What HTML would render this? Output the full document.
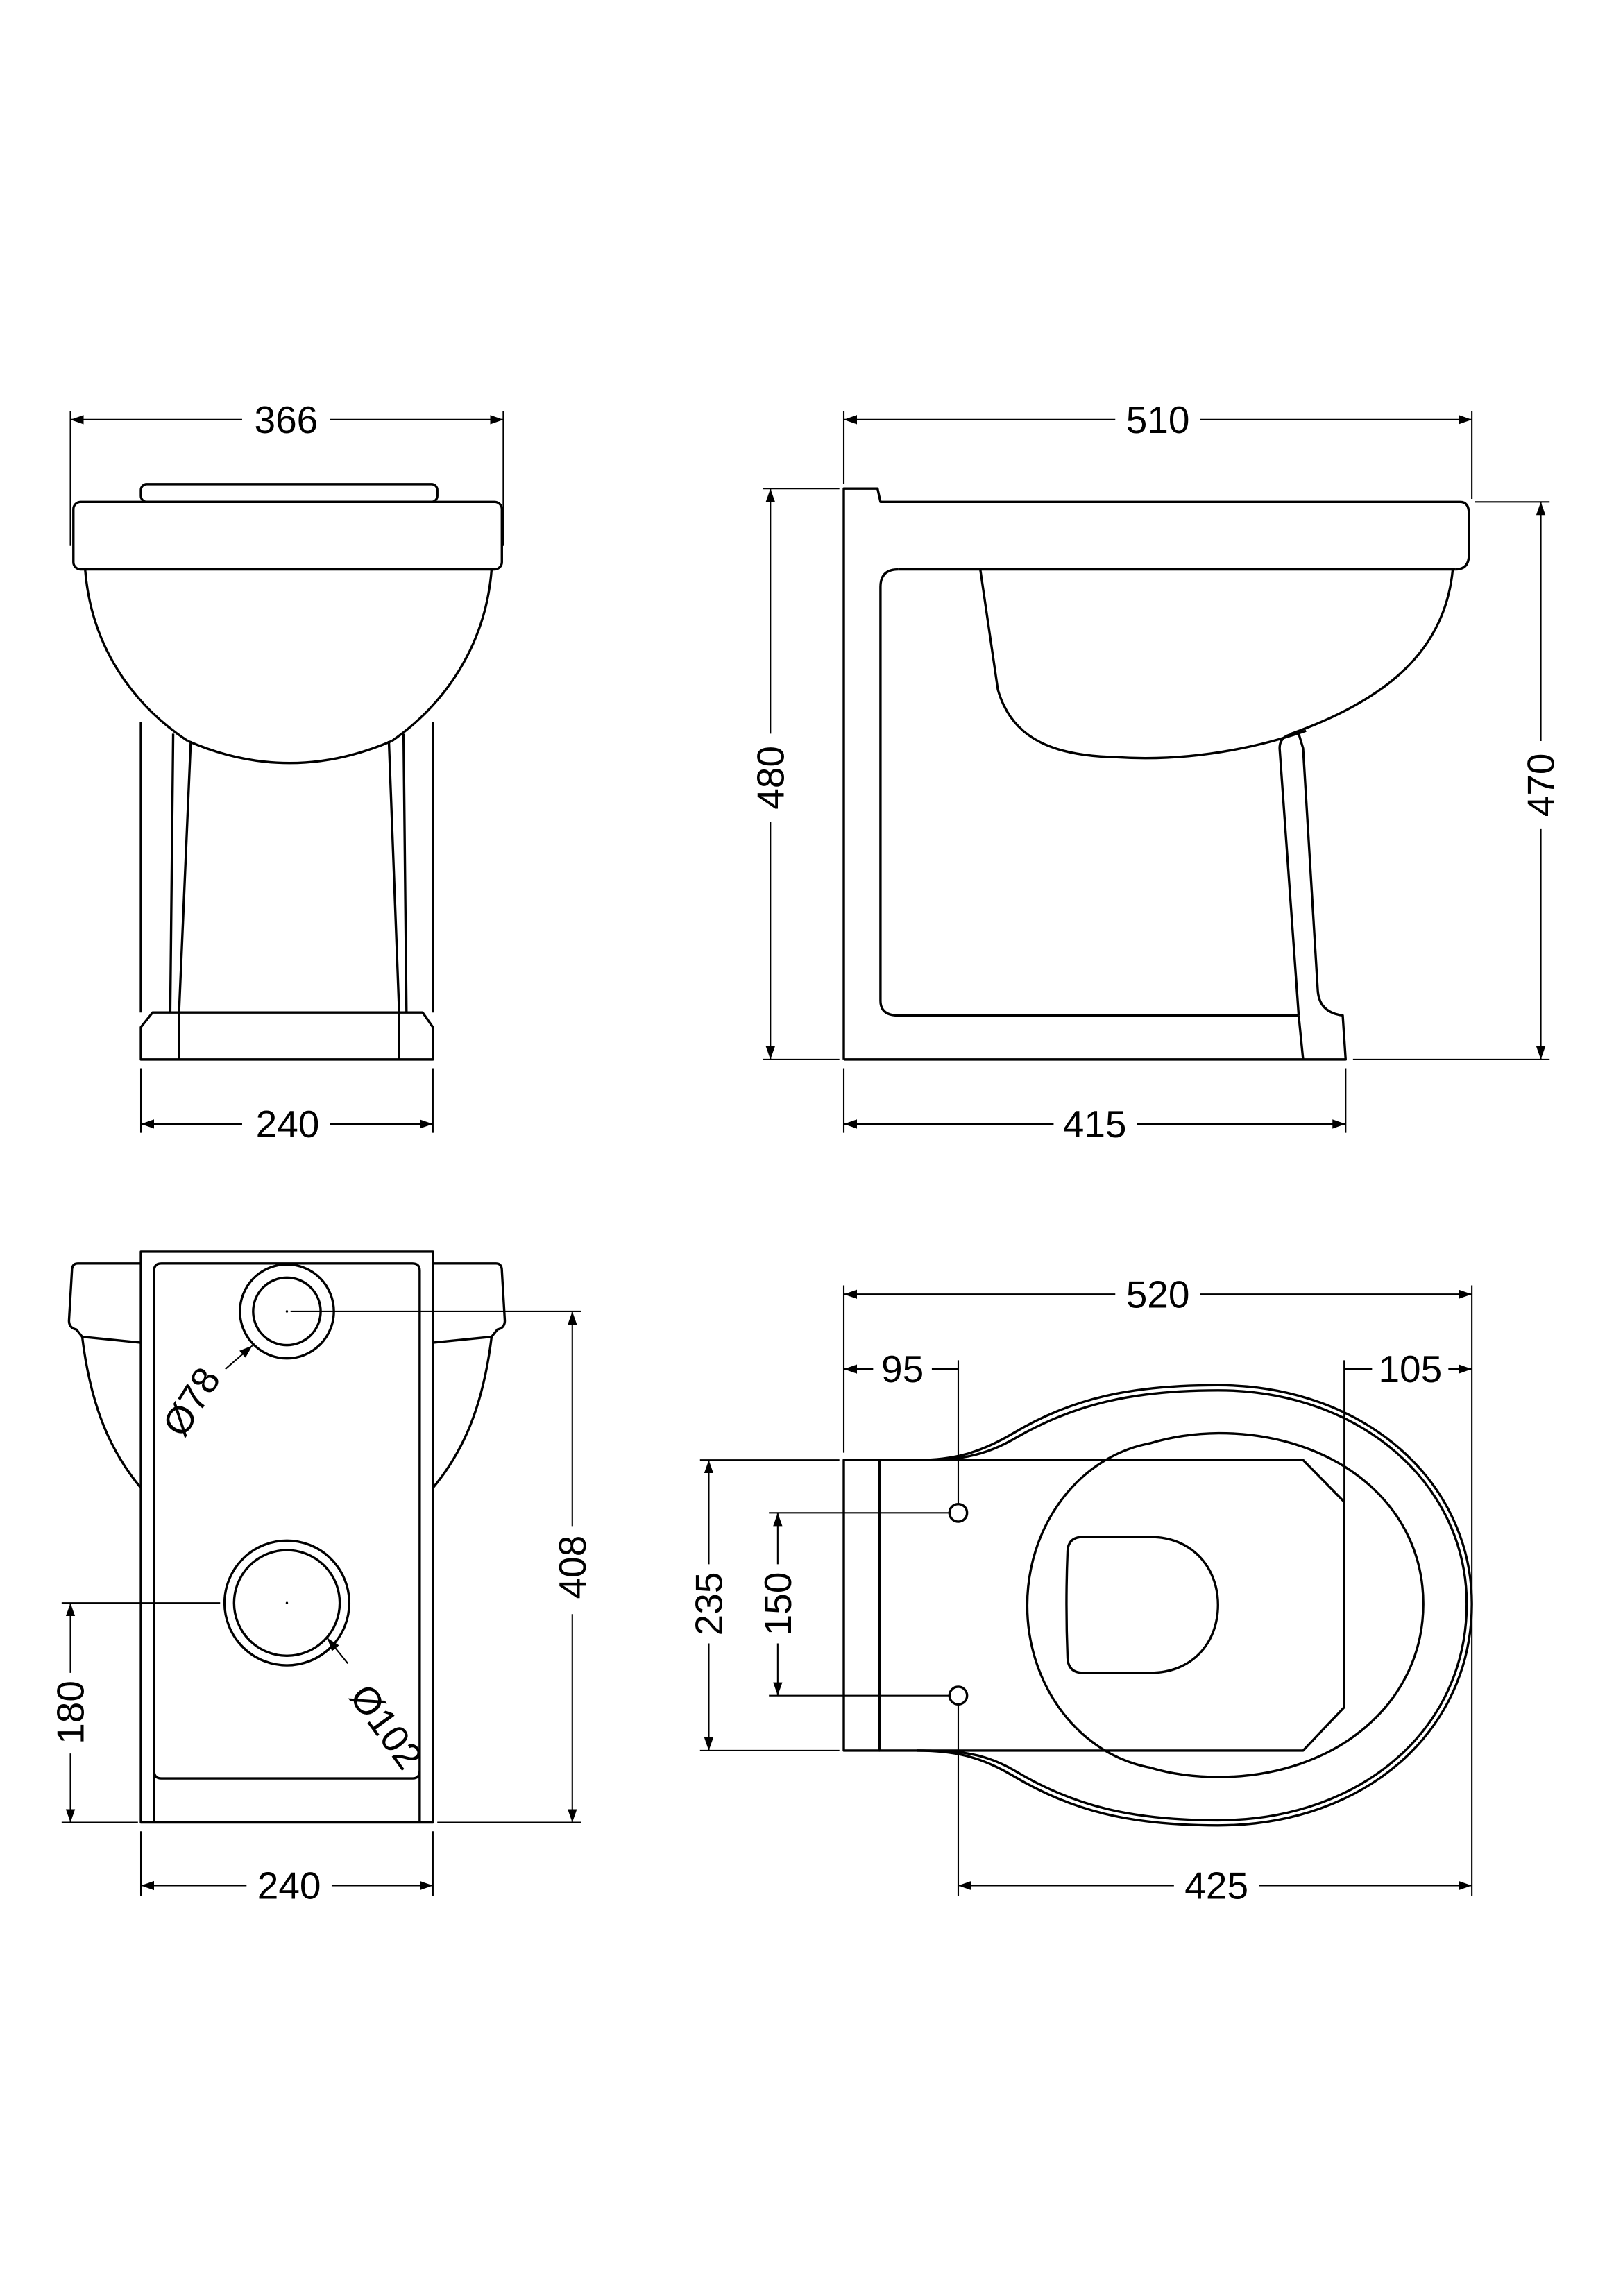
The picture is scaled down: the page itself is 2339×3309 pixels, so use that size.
<!DOCTYPE html>
<html><head><meta charset="utf-8"><style>html,body{margin:0;padding:0;background:#fff}svg{display:block}</style></head>
<body>
<svg width="2339" height="3309" viewBox="0 0 1106 1564.7" xmlns="http://www.w3.org/2000/svg">
<defs>
<marker id="a" viewBox="0 0 10 10" refX="10" refY="5" markerWidth="9" markerHeight="9" markerUnits="userSpaceOnUse" orient="auto-start-reverse"><path d="M0,1.5 L10,5 L0,8.5z" fill="#000"/></marker>
</defs>
<g fill="none" stroke="#000" stroke-width="1.6" stroke-linejoin="round">
<!-- FRONT VIEW -->
<rect x="96" y="330" width="202" height="12" rx="4"/>
<rect x="50" y="342" width="292" height="46" rx="5"/>
<path d="M58,388 C62,440 90,480 128,505"/>
<path d="M335,388 C331,440 303,480 267,505"/>
<path d="M128,505 Q197,535 267,505"/>
<path d="M96,492 L96,690 M295,492 L295,690"/>
<path d="M118,500 L116,690 M130,505 L122,690 M275,500 L277,690 M265,505 L272,690"/>
<path d="M96,722 L96,700 L104,690 L288,690 L295,700 L295,722 Z"/>
<path d="M122,690 L122,722 M272,690 L272,722"/>
<!-- SIDE VIEW -->
<path d="M575,722 L575,333 L598,333 L600,342 L995,342 Q1001,342 1001,350 L1001,378 Q1001,388 992,388"/>
<path d="M612,388 L992,388 M990,388 C985,440 950,475 880,500"/>
<path d="M668,388 L680,470 C690,505 720,515 760,516 C820,520 870,505 890,498"/>
<path d="M612,388 Q600,388 600,400 L600,682 Q600,692 612,692 L885,692"/>
<path d="M885,692 L872,510 Q872,500 885,500 L888,510 L898,675 Q899,690 915,692 L917,722 L575,722"/>
<path d="M885,692 L888,722"/>
<!-- REAR VIEW -->
<rect x="96" y="853" width="199" height="389"/>
<path d="M105,1242 L105,866 Q105,861 110,861 L281,861 Q286,861 286,866 L286,1242"/>
<path d="M105,1207 Q105,1212 110,1212 L281,1212 Q286,1212 286,1207"/>
<path d="M96,861 L53,861 Q49,861 49,866 L47,900 Q47,905 52,906 L56,911 L96,915"/>
<path d="M295,861 L338,861 Q342,861 342,866 L344,900 Q344,905 339,906 L335,911 L295,915"/>
<path d="M56,911 C62,960 76,990 96,1014 M335,911 C329,960 315,990 295,1014"/>
<circle cx="195.5" cy="893.7" r="32"/><circle cx="195.5" cy="893.7" r="23"/>
<circle cx="195.5" cy="1092.4" r="42.5"/><circle cx="195.5" cy="1092.4" r="36"/>
<!-- PLAN VIEW -->
<rect x="575" y="995" width="24.3" height="198"/>
<path d="M599,995 L625,995 C650,995 668,990 690,977 C730,953 770,944 830,944 C930,944 1003,1010 1003,1093 C1003,1180 930,1244 830,1244 C770,1244 730,1234 690,1210 C668,1197 650,1193 625,1193 L599,1193"/>
<path d="M625,995 C652,995 670,993 692,980 C732,957 772,947.5 830,947.5 C928,947.5 999.5,1012 999.5,1093 C999.5,1178 928,1240.5 830,1240.5 C772,1240.5 732,1231 692,1207 C670,1194 652,1193 625,1193"/>
<path d="M625,995 L888,995 L916,1023.5 L916,1163.5 L888,1193 L625,1193"/>
<path d="M783.7,983.6 Q805,977 830.5,976.7 C910,976.7 969.9,1025 969.9,1093 C969.9,1161 910,1211 830.5,1211 Q805,1211 783.7,1204.6 A100,112 0 0 1 783.7,983.6 Z"/>
<path d="M738,1047.4 L784,1047.4 C812,1047.4 830,1068 830,1093.7 C830,1120 812,1140 784,1140 L738,1140 Q728,1140 727.5,1130 Q726,1093 727.5,1057 Q728,1047.4 738,1047.4 Z"/>
<circle cx="653" cy="1031" r="6"/><circle cx="653" cy="1155.5" r="6"/>
</g>
<g fill="#000"><circle cx="195.5" cy="893.7" r="0.8"/><circle cx="195.5" cy="1092.4" r="0.8"/></g>
<!-- DIMENSIONS -->
<g stroke="#000" stroke-width="1" fill="none">
<path d="M48,280 L48,372 M343,280 L343,372"/>
<path d="M48,286 L165,286" marker-start="url(#a)"/>
<path d="M225,286 L343,286" marker-end="url(#a)"/>
<path d="M96,728 L96,772 M295,728 L295,772"/>
<path d="M96,766 L165,766" marker-start="url(#a)"/><path d="M225,766 L295,766" marker-end="url(#a)"/>
<path d="M575,280 L575,330 M1003,280 L1003,340"/>
<path d="M575,286 L760,286" marker-start="url(#a)"/><path d="M818,286 L1003,286" marker-end="url(#a)"/>
<path d="M520,333 L572,333 M520,722 L572,722"/>
<path d="M525,333 L525,500" marker-start="url(#a)"/><path d="M525,560 L525,722" marker-end="url(#a)"/>
<path d="M1005,342 L1056,342 M922,722 L1056,722"/>
<path d="M1050,342 L1050,505" marker-start="url(#a)"/><path d="M1050,565 L1050,722" marker-end="url(#a)"/>
<path d="M575,728 L575,772 M917,728 L917,772"/>
<path d="M575,766 L718,766" marker-start="url(#a)"/><path d="M775,766 L917,766" marker-end="url(#a)"/>
<!-- rear -->
<path d="M198,893.7 L396,893.7 M298,1242 L396,1242"/>
<path d="M390,893.7 L390,1040" marker-start="url(#a)"/><path d="M390,1100 L390,1242" marker-end="url(#a)"/>
<path d="M42,1092.4 L150,1092.4 M42,1242 L94,1242"/>
<path d="M48,1092.4 L48,1140" marker-start="url(#a)"/><path d="M48,1195 L48,1242" marker-end="url(#a)"/>
<path d="M96,1248 L96,1292 M295,1248 L295,1292"/>
<path d="M96,1285 L168,1285" marker-start="url(#a)"/><path d="M226,1285 L295,1285" marker-end="url(#a)"/>
<path d="M153.6,933 L172,917" marker-end="url(#a)"/>
<path d="M237,1133.6 L223,1116.3" marker-end="url(#a)"/>
<!-- plan -->
<path d="M575,876 L575,990 M1003,876 L1003,1085"/>
<path d="M575,882 L760,882" marker-start="url(#a)"/><path d="M818,882 L1003,882" marker-end="url(#a)"/>
<path d="M653,927 L653,1025 M916,927 L916,1023"/>
<path d="M575,933 L595,933" marker-start="url(#a)"/><path d="M635,933 L653,933"/>
<path d="M916,933 L935,933"/><path d="M987,933 L1003,933" marker-end="url(#a)"/>
<path d="M477,995 L572,995 M477,1193 L572,1193"/>
<path d="M483,995 L483,1066" marker-start="url(#a)"/><path d="M483,1120 L483,1193" marker-end="url(#a)"/>
<path d="M524,1031 L647,1031 M524,1155.5 L647,1155.5"/>
<path d="M530,1031 L530,1066" marker-start="url(#a)"/><path d="M530,1120 L530,1155.5" marker-end="url(#a)"/>
<path d="M653,1162 L653,1292 M1003,1100 L1003,1292"/>
<path d="M653,1285 L800,1285" marker-start="url(#a)"/><path d="M858,1285 L1003,1285" marker-end="url(#a)"/>
</g>
<g font-family="'Liberation Sans','DejaVu Sans',sans-serif" font-size="26" fill="#000" text-anchor="middle">
<text x="195" y="295">366</text>
<text x="196" y="775">240</text>
<text x="789" y="295">510</text>
<text x="746" y="775">415</text>
<text transform="translate(534,530) rotate(-90)">480</text>
<text transform="translate(1059,535) rotate(-90)">470</text>
<text transform="translate(399,1068) rotate(-90)">408</text>
<text transform="translate(57,1167) rotate(-90)">180</text>
<text x="197" y="1294">240</text>
<text transform="translate(138,960) rotate(-58)">Ø78</text>
<text transform="translate(256,1182) rotate(54)">Ø102</text>
<text x="789" y="891">520</text>
<text x="615" y="942">95</text>
<text x="961" y="942">105</text>
<text transform="translate(492,1093) rotate(-90)">235</text>
<text transform="translate(539,1093) rotate(-90)">150</text>
<text x="829" y="1294">425</text>
</g>
</svg>
</body></html>
